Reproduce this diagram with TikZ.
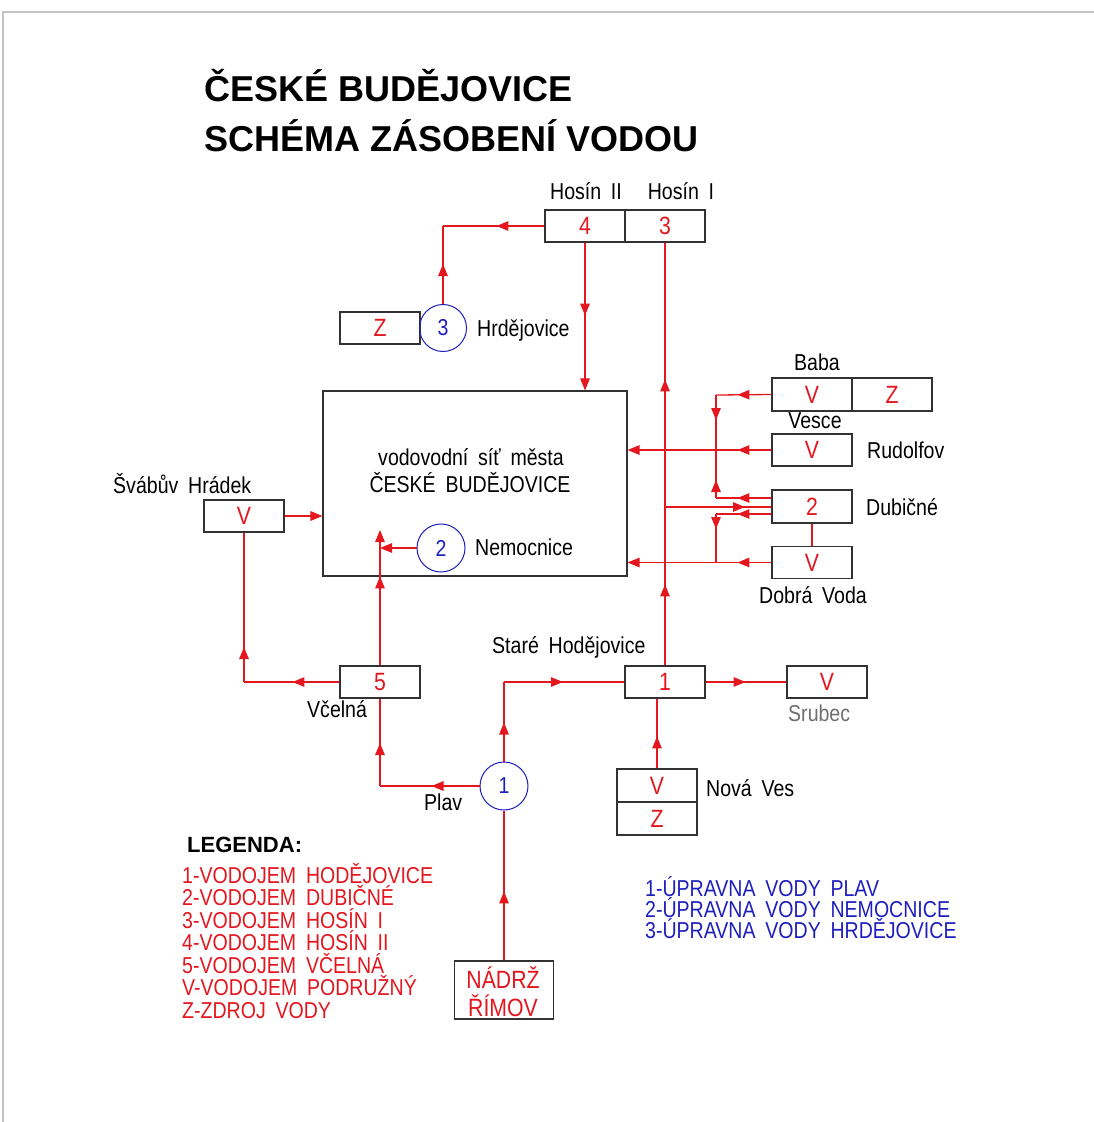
\documentclass[tikz,border=0pt]{standalone}
\usepackage{fontspec}
\setmainfont{Liberation Sans}
\newfontfamily\cadf[FakeStretch=0.85,WordSpace=1.8]{Liberation Sans}
\usetikzlibrary{arrows.meta,decorations.markings}
\definecolor{cred}{RGB}{228,22,30}
\definecolor{cblue}{RGB}{30,30,190}
\definecolor{boxc}{RGB}{50,50,50}
\definecolor{framec}{RGB}{195,195,195}
\definecolor{sgray}{RGB}{110,110,110}
\newcommand\cadtxt{\cadf\fontsize{23bp}{26bp}\selectfont}
\newcommand\cadbig{\cadf\fontsize{25bp}{28bp}\selectfont}
\tikzset{
  bx/.style={draw=boxc, line width=1.1bp, minimum width=80bp, minimum height=32bp, inner sep=0pt, text=cred, font=\cadbig},
  circ/.style={circle, draw=cblue, line width=1bp, minimum size=47bp, inner sep=0pt, text=cblue, font=\cadtxt},
  rl/.style={color=cred, line width=1.3bp},
  ar/.style={postaction={decorate,decoration={markings,mark=at position #1 with {\arrow{Triangle[length=12bp,width=9.5bp]}}}}},
  endar/.style={-{Triangle[length=12bp,width=9.5bp]}},
  lbl/.style={inner sep=0pt, font=\cadtxt, text=black},
  ttl/.style={inner sep=0pt, font=\fontsize{36bp}{40bp}\selectfont\bfseries, text=black},
  legr/.style={inner sep=0pt, font=\cadtxt, text=cred, anchor=base west},
  legb/.style={inner sep=0pt, font=\cadtxt, text=cblue, anchor=base west},
}
\begin{document}
\begin{tikzpicture}[x=1bp,y=-1bp]
\useasboundingbox (0,0) rectangle (1094,1122);
\draw[framec, line width=2bp] (3,1122) -- (3,12) -- (1094,12);

% title
\node[ttl, anchor=base west] (t1) at (204,101) {ČESKÉ BUDĚJOVICE};
\node[ttl, anchor=base west] (t2) at (204,151) {SCHÉMA ZÁSOBENÍ VODOU};

% boxes
\node[bx] (h4) at (585,226) {4};
\node[bx] (h3) at (665,226) {3};
\node[bx] (hz) at (380,328) {Z};
\node[circ] (c3) at (443,328) {3};
\node[draw=boxc, line width=1.1bp, minimum width=304bp, minimum height=185bp, inner sep=0pt] (main) at (475,483.5) {};
\node[circ, minimum size=48bp] (c2) at (441,548) {2};
\node[bx] (sv) at (244,516) {V};
\node[bx] (vc) at (380,682) {5};
\node[circ, minimum size=48bp] (c1) at (504,786) {1};
\node[bx, minimum width=99bp, minimum height=58bp] (nad) at (504,990) {};
\node[bx] (st) at (665,682) {1};
\node[bx] (sr) at (827,682) {V};
\node[bx, minimum height=33bp] (nvv) at (657,785.5) {V};
\node[bx, minimum height=33bp] (nvz) at (657,818.5) {Z};
\node[bx, minimum height=33bp] (bv) at (812,394.5) {V};
\node[bx, minimum height=33bp] (bz) at (892,394.5) {Z};
\node[bx] (rud) at (812,450) {V};
\node[bx, minimum height=33bp] (dub) at (812,506.5) {2};
\node[bx] (dob) at (812,562.5) {V};

% labels
\node[lbl, anchor=base] (lh2) at (586,199) {Hosín II};
\node[lbl, anchor=base] (lh1) at (681,199) {Hosín I};
\node[lbl, anchor=base west] (lhrd) at (477,336) {Hrdějovice};
\node[lbl, anchor=base] (ln1) at (471,465) {vodovodní síť města};
\node[lbl, anchor=base] (ln2) at (470,492) {ČESKÉ BUDĚJOVICE};
\node[lbl, anchor=base west] (lsv) at (113,493) {Švábův Hrádek};
\node[lbl, anchor=base west] (lnem) at (475,555) {Nemocnice};
\node[lbl, anchor=base] (lbaba) at (817,370) {Baba};
\node[lbl, anchor=base] (lves) at (815,428) {Vesce};
\node[lbl, anchor=base west] (lrud) at (867,458) {Rudolfov};
\node[lbl, anchor=base west] (ldub) at (866,515) {Dubičné};
\node[lbl, anchor=base] (ldob) at (813,603) {Dobrá Voda};
\node[lbl, anchor=base west] (lst) at (492,653) {Staré Hodějovice};
\node[lbl, anchor=base west, text=sgray] (lsr) at (788,721) {Srubec};
\node[lbl, anchor=base west] (lnv) at (706,796) {Nová Ves};
\node[lbl, anchor=base west] (lvc) at (307,717) {Včelná};
\node[lbl, anchor=base west] (lpl) at (424,810) {Plav};
\node[lbl, anchor=base, text=cred, font=\cadbig] (lnad1) at (503,988) {NÁDRŽ};
\node[lbl, anchor=base, text=cred, font=\cadbig] (lnad2) at (503,1016) {ŘÍMOV};

% legend
\node[inner sep=0pt, anchor=base west, font=\fontsize{22bp}{24bp}\selectfont\bfseries] (leg) at (187,852) {LEGENDA:};
\node[legr] (r1) at (182,883) {1-VODOJEM HODĚJOVICE};
\node[legr] (r2) at (182,905.5) {2-VODOJEM DUBIČNÉ};
\node[legr] (r3) at (182,928) {3-VODOJEM HOSÍN I};
\node[legr] (r4) at (182,950.5) {4-VODOJEM HOSÍN II};
\node[legr] (r5) at (182,973) {5-VODOJEM VČELNÁ};
\node[legr] (r6) at (182,995.5) {V-VODOJEM PODRUŽNÝ};
\node[legr] (r7) at (182,1018) {Z-ZDROJ VODY};
\node[legb] (u1) at (645,896) {1-ÚPRAVNA VODY PLAV};
\node[legb] (u2) at (645,917) {2-ÚPRAVNA VODY NEMOCNICE};
\node[legb] (u3) at (645,938) {3-ÚPRAVNA VODY HRDĚJOVICE};

% corners
\coordinate (a1) at (443,226);
\coordinate (b1) at (716,395);
\coordinate (b2) at (716,498);
\coordinate (b3) at (716,514);
\coordinate (b4) at (716,563);
\coordinate (m1) at (665,507);
\coordinate (k1) at (244,682);
\coordinate (k2) at (380,786);
\coordinate (k3) at (380,530);
\coordinate (k4) at (504,682);

% connectors top
\draw[rl, ar=48bp] (h4.west) -- (a1);
\draw[rl, ar=40bp] (c3.north) -- (a1);
\draw[rl, ar=73bp, endar] (h4.south) -- (h4.south |- main.north);
\draw[rl, ar=81bp, ar=286bp] (st.north) -- (h3.south);

% connectors right
\draw[rl, ar=34bp] (bv.west) -- (b1);
\draw[rl, ar=25bp] (b1) -- (b2);
\draw[rl, ar=18bp] (b2) -- (b1);
\draw[rl, ar=34bp] (dub.west |- b2) -- (b2);
\draw[rl, ar=34bp, endar] (rud.west) -- (rud.west -| main.east);
\draw[rl, ar=80bp] (m1) -- (dub.west |- m1);
\draw[rl, ar=34bp] (dub.west |- b3) -- (b3);
\draw[rl, ar=15bp] (b3) -- (b4);
\draw[rl, ar=34bp, endar] (dob.west) -- (dob.west -| main.east);
\draw[rl] (dub.south) -- (dob.north);

% connectors left and bottom
\draw[rl, endar] (sv.east) -- (sv.east -| main.west);
\draw[rl, ar=35bp] (k1) -- (sv.south);
\draw[rl, ar=47bp] (vc.west) -- (k1);
\draw[rl, ar=48bp] (c1.west) -- (k2);
\draw[rl, ar=43bp] (k2) -- (vc.south);
\draw[rl, ar=89bp, endar] (vc.north) -- (k3);
\draw[rl, endar] (c2.west) -- (c2.west -| k3);
\draw[rl, ar=39bp] (c1.north) -- (k4);
\draw[rl, ar=59bp] (k4) -- (st.west);
\draw[rl, ar=69bp] (nad.north) -- (c1.south);
\draw[rl, ar=40bp] (st.east) -- (sr.west);
\draw[rl, ar=32bp] (nvv.north) -- (nvv.north |- st.south);
\end{tikzpicture}
\end{document}
